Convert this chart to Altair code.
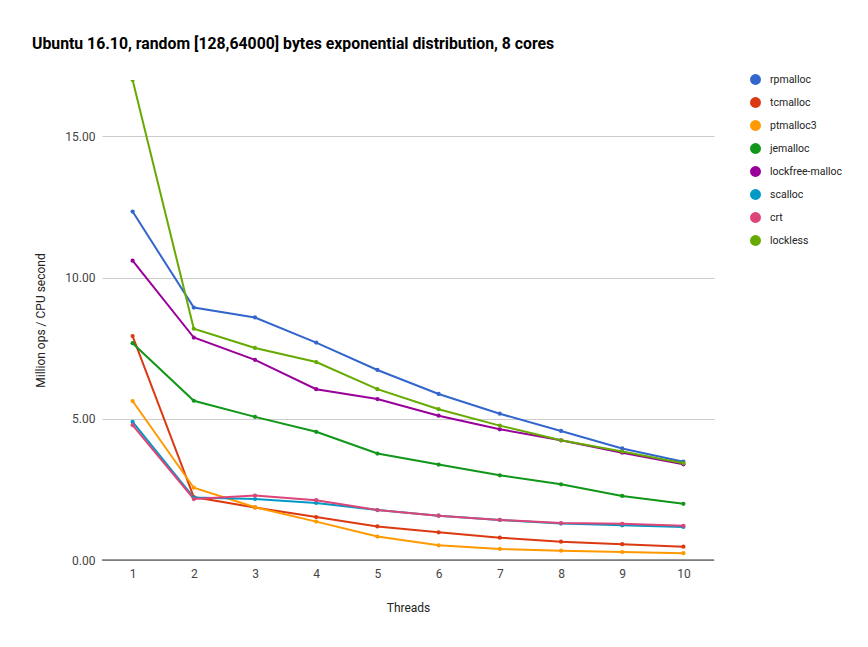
import altair as alt
import pandas as pd

threads = [1, 2, 3, 4, 5, 6, 7, 8, 9, 10]
series_names = ["rpmalloc", "tcmalloc", "ptmalloc3", "jemalloc",
                "lockfree-malloc", "scalloc", "crt", "lockless"]
colors = ["#3366cc", "#dc3912", "#ff9900", "#109618",
          "#990099", "#0099c6", "#dd4477", "#66aa00"]

rpmalloc = [12.34, 8.94, 8.59, 7.70, 6.73, 5.88, 5.18, 4.57, 3.95, 3.48]
tcmalloc = [7.93, 2.23, 1.86, 1.52, 1.19, 0.98, 0.79, 0.65, 0.56, 0.47]
ptmalloc3 = [5.63, 2.56, 1.87, 1.36, 0.83, 0.52, 0.39, 0.33, 0.28, 0.24]
jemalloc = [7.68, 5.64, 5.07, 4.54, 3.77, 3.38, 3.00, 2.68, 2.27, 1.99]
lockfree_malloc = [10.60, 7.88, 7.09, 6.05, 5.70, 5.11, 4.63, 4.24, 3.80, 3.39]
scalloc = [4.89, 2.21, 2.16, 2.02, 1.77, 1.57, 1.42, 1.29, 1.23, 1.17]
crt = [4.78, 2.16, 2.28, 2.12, 1.77, 1.57, 1.42, 1.31, 1.28, 1.21]
lockless = [17.0, 8.19, 7.51, 7.01, 6.05, 5.34, 4.76, 4.24, 3.84, 3.43]

all_series = [rpmalloc, tcmalloc, ptmalloc3, jemalloc,
              lockfree_malloc, scalloc, crt, lockless]

rows = []
for idx, (name, vals) in enumerate(zip(series_names, all_series)):
    for t, v in zip(threads, vals):
        rows.append({"allocator": name, "threads": t, "value": v, "idx": idx})
df = pd.DataFrame(rows)

FONT = "Roboto"

base = alt.Chart(df).encode(
    x=alt.X("threads:O", title="Threads",
            scale=alt.Scale(type="point", padding=0.5),
            axis=alt.Axis(labelAngle=0, ticks=False, domain=False, grid=False,
                          labelPadding=8, titlePadding=23,
                          labelFont=FONT, labelFontSize=12, labelColor="#444444",
                          titleFont=FONT, titleFontSize=12, titleFontWeight="normal",
                          titleColor="#222222")),
    y=alt.Y("value:Q", title="Million ops / CPU second",
            scale=alt.Scale(domain=[0, 17], nice=False),
            axis=alt.Axis(values=[0, 5, 10, 15], format=".2f", ticks=False,
                          domain=False, grid=True, gridColor="#cccccc",
                          labelPadding=7, titlePadding=17,
                          labelFont=FONT, labelFontSize=12, labelColor="#444444",
                          titleFont=FONT, titleFontSize=12, titleFontWeight="normal",
                          titleColor="#222222")),
    color=alt.Color("allocator:N",
                    scale=alt.Scale(domain=series_names, range=colors),
                    legend=alt.Legend(title=None, orient="none", legendX=648, legendY=-6,
                                      symbolType="circle", symbolSize=120,
                                      symbolStrokeWidth=0, symbolOpacity=1,
                                      labelFont=FONT, labelFontSize=10.5,
                                      labelColor="#222222", rowPadding=12,
                                      labelOffset=9, padding=0)),
    detail="allocator:N",
    order="idx:Q",
)

lines = base.mark_line(strokeWidth=2, clip=True,
                       point=alt.OverlayMarkDef(size=18, filled=True, opacity=1))

baseline = alt.Chart(pd.DataFrame({"y": [0]})).mark_rule(color="#333333", strokeWidth=1).encode(
    y=alt.Y("y:Q", scale=alt.Scale(domain=[0, 17])))

chart = alt.layer(lines, baseline).properties(
    width=612, height=480,
    autosize=alt.AutoSizeParams(type="none"),
    padding={"left": 94, "top": 72, "right": 146, "bottom": 72},
    title=alt.TitleParams(
        "Ubuntu 16.10, random [128,64000] bytes exponential distribution, 8 cores",
        anchor="start", frame="group", dx=-70, dy=23, offset=32, baseline="alphabetic",
        font=FONT, fontSize=15.8, fontWeight="bold", color="#000000"),
).configure(background="white").configure_view(stroke=None)

chart.save("out.html", embed_options={"renderer": "svg", "actions": False})
